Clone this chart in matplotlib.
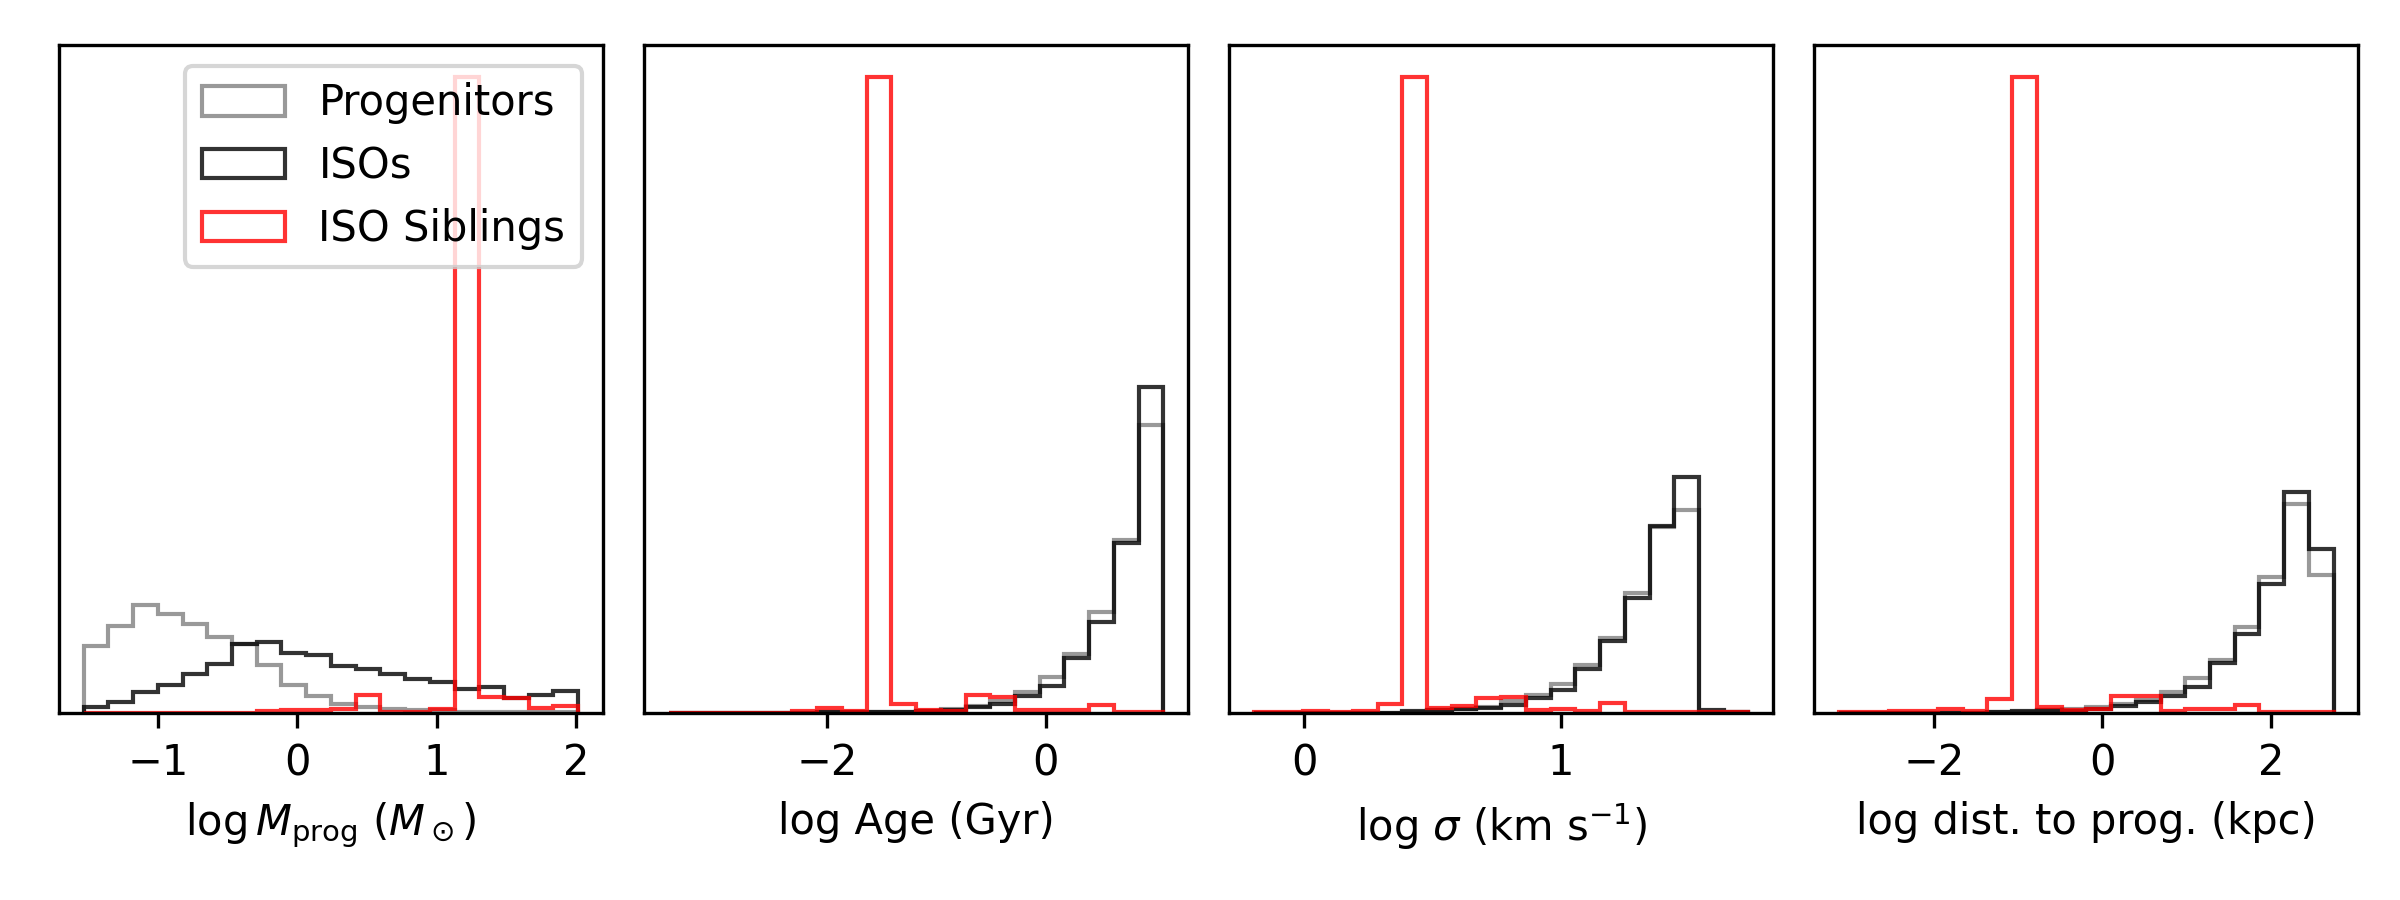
import matplotlib
matplotlib.use("Agg")
import matplotlib.pyplot as plt
import numpy as np

# bin ranges (20 bins each)
mass_range = (-1.533, 2.013)
age_range = (-3.44, 1.07)
sig_range = (-0.195, 1.731)
dist_range = (-3.121, 2.740)

# relative bin heights, normalised to the sibling peak
mass_prog = [0.105, 0.137, 0.170, 0.155, 0.140, 0.119, 0.108, 0.075, 0.0435, 0.0267,
             0.0147, 0.0094, 0.0068, 0.005, 0.004, 0.002, 0.002, 0.0015, 0.0015, 0.001]
mass_iso = [0.0094, 0.0173, 0.033, 0.0435, 0.0608, 0.0765, 0.108, 0.1116, 0.0949, 0.0907,
            0.0739, 0.0692, 0.0618, 0.0529, 0.0487, 0.0372, 0.0409, 0.0236, 0.0288, 0.034]
mass_sib = [0, 0, 0, 0, 0, 0, 0, 0.003, 0.004, 0.004,
            0.007, 0.029, 0.0015, 0.0015, 0.0058, 1.0, 0.025, 0.0236, 0.0079, 0.0115]

age_prog = [0.0003, 0.0003, 0.0003, 0.0003, 0.0005, 0.0005, 0.0008, 0.001, 0.0015, 0.002,
            0.003, 0.0068, 0.011, 0.019, 0.0325, 0.056, 0.093, 0.159, 0.272, 0.453]
age_iso = [0.0003, 0.0003, 0.0003, 0.0003, 0.0005, 0.0005, 0.0008, 0.001, 0.0015, 0.002,
           0.0026, 0.005, 0.010, 0.014, 0.026, 0.042, 0.086, 0.1426, 0.267, 0.512]
age_sib = [0, 0, 0, 0, 0, 0.0037, 0.0073, 0.0037, 1.0, 0.014,
           0.0047, 0.0037, 0.028, 0.0246, 0.0047, 0.005, 0.005, 0.0126, 0.002, 0.002]

sig_prog = [0, 0, 0, 0, 0, 0.0005, 0.002, 0.004, 0.007, 0.009,
            0.019, 0.029, 0.046, 0.075, 0.118, 0.189, 0.292, 0.319, 0.002, 0.001]
sig_iso = [0, 0, 0, 0, 0, 0.0005, 0.0026, 0.004, 0.006, 0.0079,
           0.0126, 0.023, 0.0367, 0.0687, 0.113, 0.180, 0.294, 0.371, 0.004, 0.0016]
sig_sib = [0.0016, 0.001, 0.0026, 0.0016, 0.0026, 0.0147, 1.0, 0.0084, 0.011, 0.024,
           0.025, 0.0042, 0.0068, 0.0026, 0.0162, 0.0016, 0.001, 0.001, 0.001, 0.001]

dist_prog = [0, 0, 0, 0, 0, 0, 0.001, 0.002, 0.005, 0.0068,
             0.0094, 0.0136, 0.02, 0.033, 0.055, 0.084, 0.135, 0.214, 0.329, 0.2175]
dist_iso = [0, 0, 0, 0, 0, 0, 0.001, 0.0026, 0.004, 0.003,
            0.0058, 0.0105, 0.0173, 0.0267, 0.041, 0.0786, 0.124, 0.202, 0.347, 0.258]
dist_sib = [0.0016, 0.0016, 0.0026, 0.003, 0.0058, 0.003, 0.0215, 1.0, 0.0094, 0.004,
            0.0068, 0.026, 0.026, 0.003, 0.0058, 0.0058, 0.013, 0.0016, 0.001, 0.001]

xlabels = [r"$\log M_{\rm prog}$ ($M_\odot$)", "log Age (Gyr)",
           r"log $\sigma$ (km s$^{-1}$)", "log dist. to prog. (kpc)"]

panels = [(mass_range, mass_prog, mass_iso, mass_sib),
          (age_range, age_prog, age_iso, age_sib),
          (sig_range, sig_prog, sig_iso, sig_sib),
          (dist_range, dist_prog, dist_iso, dist_sib)]

fig, axes = plt.subplots(1, 4, figsize=(8, 3), dpi=300)
fig.subplots_adjust(left=0.0246, right=0.9826, bottom=0.2078, top=0.95, wspace=0.0761)

for ax, (rng, prog, iso, sib), lab in zip(axes, panels, xlabels):
    edges = np.linspace(rng[0], rng[1], len(prog) + 1)
    centers = 0.5 * (edges[1:] + edges[:-1])
    ax.hist(centers, bins=edges, weights=prog, histtype='step', color='k', alpha=0.4,
            label='Progenitors')
    ax.hist(centers, bins=edges, weights=iso, histtype='step', color='k', alpha=0.8,
            label='ISOs')
    ax.hist(centers, bins=edges, weights=sib, histtype='step', color='r', alpha=0.8,
            label='ISO Siblings')
    ax.set_yticks([])
    ax.set_xlabel(lab)

axes[0].legend(loc='upper right')

plt.savefig("out.png", dpi=300)
